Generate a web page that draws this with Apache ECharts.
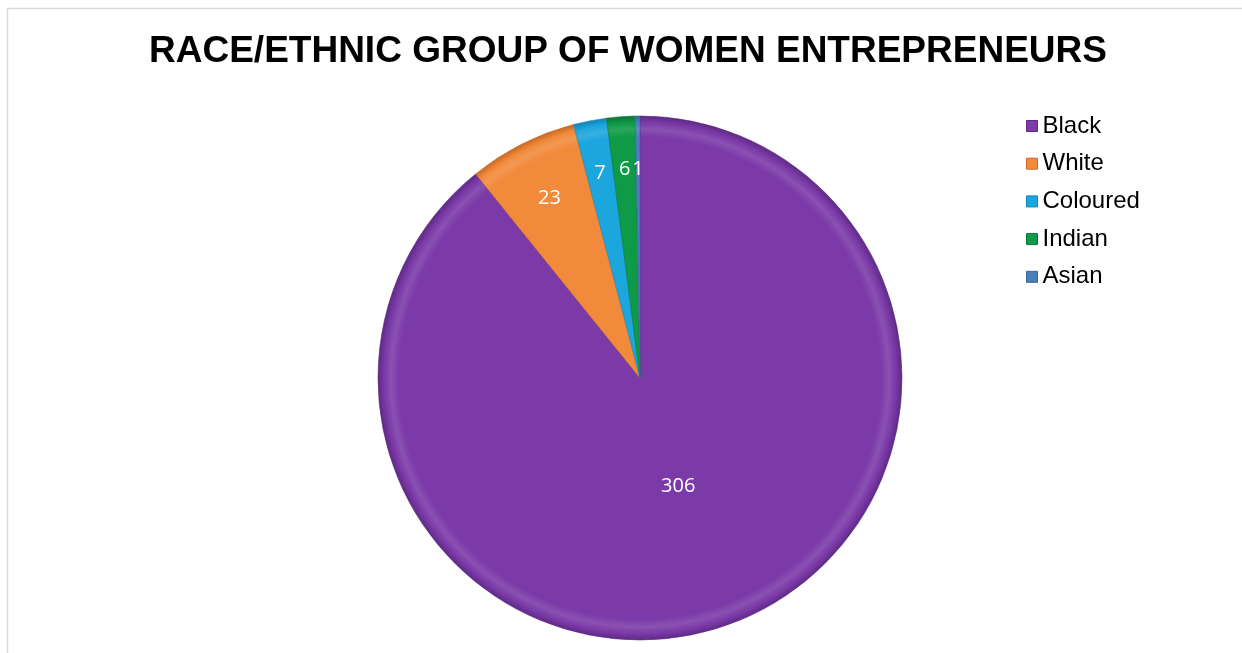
<!DOCTYPE html>
<html>
<head>
<meta charset="utf-8">
<script src="https://cdn.jsdelivr.net/npm/echarts@6/dist/echarts.min.js"></script>
<style>
  html, body { margin: 0; padding: 0; background: #ffffff; }
  #chart { width: 1242px; height: 653px; }
</style>
</head>
<body>
<div id="chart"></div>
<script>
// Race / ethnic group counts of women entrepreneurs
const groups = ['Black', 'White', 'Coloured', 'Indian', 'Asian'];
const counts = [306, 23, 7, 6, 1];
const colors = ['#7B3AA8', '#F28A3C', '#1CA6DE', '#0E9A47', '#4A7EBB'];
const edgeColors = ['#5E2A85', '#C96A22', '#1283B3', '#0A7535', '#3A6496'];

const chart = echarts.init(document.getElementById('chart'));

const center = [640, 378];
const radius = 262;

// bevelled rim: gradient measured from the pie centre
const sliceData = groups.map((g, i) => ({
  name: g,
  value: counts[i],
  itemStyle: {
    color: {
      type: 'radial', x: center[0], y: center[1], r: radius, global: true,
      colorStops: [
        { offset: 0, color: colors[i] },
        { offset: 0.92, color: colors[i] },
        { offset: 0.95, color: echarts.color.lift(colors[i], 0.12) },
        { offset: 0.975, color: colors[i] },
        { offset: 1, color: edgeColors[i] }
      ]
    },
    borderColor: edgeColors[i],
    borderWidth: 0.6
  }
}));

const labelFont = { color: '#ffffff', fontSize: 20, fontFamily: 'Open Sans, Liberation Sans, sans-serif' };

// label carriers: same data, transparent, so labels follow the slice angles
function labelRing(r, showIdx) {
  return {
    type: 'pie',
    silent: true,
    center: center,
    radius: r,
    startAngle: 90,
    clockwise: true,
    z: 5,
    emphasis: { disabled: true },
    itemStyle: { color: 'rgba(0,0,0,0)' },
    labelLine: { show: false },
    data: groups.map((g, i) => ({
      name: g,
      value: counts[i],
      label: Object.assign({ show: showIdx.indexOf(i) >= 0, position: 'inside', formatter: '{c}' }, labelFont)
    }))
  };
}

chart.setOption({
  backgroundColor: '#ffffff',
  animation: false,
  title: {
    text: 'RACE/ETHNIC GROUP OF WOMEN ENTREPRENEURS',
    left: 623,
    textAlign: 'center',
    top: 28,
    textStyle: {
      fontFamily: 'Liberation Sans, Arial, sans-serif',
      fontWeight: 'bold',
      fontSize: 37,
      color: '#000000'
    }
  },
  legend: {
    orient: 'vertical',
    left: 1026,
    top: 114,
    padding: 0,
    itemWidth: 11,
    itemHeight: 11,
    itemGap: 13.7,
    icon: 'rect',
    textStyle: {
      fontFamily: 'Liberation Sans, Arial, sans-serif',
      fontSize: 24,
      color: '#000000'
    },
    data: groups.map((g, i) => ({ name: g, itemStyle: { color: colors[i], borderColor: edgeColors[i], borderWidth: 1 } }))
  },
  graphic: [
    { type: 'line', shape: { x1: 7.5, y1: 8, x2: 7.5, y2: 653 }, style: { stroke: '#d9d9d9', lineWidth: 1.5 }, silent: true },
    { type: 'line', shape: { x1: 7, y1: 8.5, x2: 1242, y2: 8.5 }, style: { stroke: '#d9d9d9', lineWidth: 1.5 }, silent: true }
  ],
  series: [
    {
      type: 'pie',
      name: 'Race',
      center: center,
      radius: radius,
      startAngle: 90,
      clockwise: true,
      label: { show: false },
      labelLine: { show: false },
      emphasis: { disabled: true },
      data: sliceData
    },
    labelRing([0, 224], [0]),
    labelRing([150, 246], [1]),
    labelRing([150, 262], [2, 3, 4])
  ]
});
</script>
</body>
</html>
